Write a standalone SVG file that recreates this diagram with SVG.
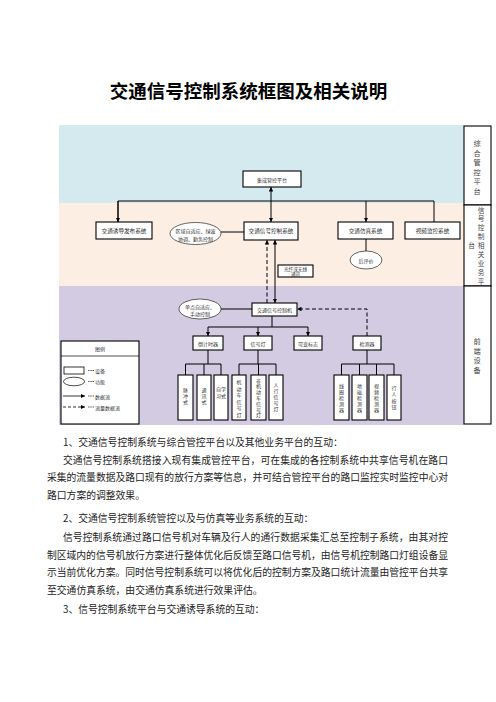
<svg xmlns="http://www.w3.org/2000/svg" width="496" height="702" viewBox="0 0 496 702">
<style>
.t{font-family:"Noto Sans CJK SC","Noto Sans",sans-serif;fill:#333;dominant-baseline:central;text-anchor:middle}
.s5{font-size:5px}
.s6{font-size:5.6px}
.box{fill:#fff;stroke:#000;stroke-width:1.1}
.ell{fill:#fff;stroke:#222;stroke-width:0.7}
.ln{fill:none;stroke:#000;stroke-width:1}
.dl{fill:none;stroke:#000;stroke-width:1;stroke-dasharray:4 2.5}
.col{font-family:"Noto Sans CJK SC","Noto Sans",sans-serif;font-size:7.2px;fill:#444;dominant-baseline:central;text-anchor:middle}
.colm{font-family:"Noto Sans CJK SC","Noto Sans",sans-serif;font-size:6.7px;fill:#444;dominant-baseline:central;text-anchor:middle}
.body{font-family:"Noto Sans CJK SC","Noto Sans",sans-serif;font-size:9.8px;fill:#222}
</style>
<defs>
<marker id="ah" viewBox="0 0 6 6" refX="6" refY="3" markerUnits="userSpaceOnUse" markerWidth="4.5" markerHeight="4.5" orient="auto-start-reverse"><path d="M0,0 L6,3 L0,6 z" fill="#000"/></marker>
</defs>
<rect width="496" height="702" fill="#fff"/>
<text x="248.5" y="98" font-family="'Noto Sans CJK SC',sans-serif" font-size="18.5" font-weight="bold" text-anchor="middle" fill="#000">交通信号控制系统框图及相关说明</text>

<g id="bands">
<rect x="59" y="125" width="405" height="78" fill="#d4eaef"/>
<rect x="59" y="203" width="405" height="83" fill="#fdeee3"/>
<rect x="59" y="286" width="405" height="139" fill="#d2cbe1"/>
</g>

<g id="col-top"><rect x="464" y="126" width="27" height="79" class="box"/>
<text class="col"><tspan x="477" y="143">综</tspan><tspan x="477" y="152.5">合</tspan><tspan x="477" y="162">管</tspan><tspan x="477" y="171.5">控</tspan><tspan x="477" y="181">平</tspan><tspan x="477" y="190.5">台</tspan></text></g>
<g id="col-mid"><rect x="464" y="205" width="27" height="81" class="box"/>
<text class="colm"><tspan x="481" y="209.5">信</tspan><tspan x="481" y="218.4">号</tspan><tspan x="481" y="227.3">控</tspan><tspan x="481" y="236.2">制</tspan><tspan x="481" y="245.1">相</tspan><tspan x="481" y="254">关</tspan><tspan x="481" y="262.9">业</tspan><tspan x="481" y="271.8">务</tspan><tspan x="481" y="280.7">平</tspan><tspan x="471.5" y="245">台</tspan></text></g>
<g id="col-bot"><rect x="464" y="286" width="27" height="138" class="box"/>
<text class="col"><tspan x="477" y="341">前</tspan><tspan x="477" y="350.5">端</tspan><tspan x="477" y="360">设</tspan><tspan x="477" y="369.5">备</tspan></text></g>

<g id="connectors">
<line x1="271" y1="187" x2="271" y2="222" class="ln" marker-start="url(#ah)" marker-end="url(#ah)"/>
<polyline points="118,222 118,201 434,201 434,222" class="ln"/>
<line x1="118" y1="201" x2="118" y2="222" class="ln" marker-end="url(#ah)"/>
<line x1="366" y1="201" x2="366" y2="222" class="ln" marker-end="url(#ah)"/>
<line x1="221" y1="232" x2="244" y2="232" class="ln"/>
<line x1="366" y1="239" x2="366" y2="251" class="ln"/>
<line x1="275" y1="240" x2="275" y2="303" class="ln" marker-start="url(#ah)" marker-end="url(#ah)"/>
<line x1="267" y1="303" x2="267" y2="240" class="dl" marker-end="url(#ah)"/>
<line x1="221" y1="309" x2="252" y2="309" class="ln"/>
<polyline points="367,336 367,309 297,309" class="dl" marker-end="url(#ah)"/>
<line x1="272" y1="316" x2="272" y2="327" class="ln"/>
<line x1="208" y1="327" x2="308" y2="327" class="ln"/>
<line x1="208" y1="327" x2="208" y2="336" class="ln" marker-end="url(#ah)"/>
<line x1="258" y1="327" x2="258" y2="336" class="ln" marker-end="url(#ah)"/>
<line x1="308" y1="327" x2="308" y2="336" class="ln" marker-end="url(#ah)"/>
<path d="M208,350 V364 M185.5,375 V364 H221 V375 M204,364 V375" class="ln"/>
<path d="M258,350 V364 M239,375 V364 H276 V375 M258.5,364 V375" class="ln"/>
<path d="M367,350 V364 M341.5,375 V364 H394 V375 M359.5,364 V375 M376.5,364 V375" class="ln"/>
</g>

<g id="n-jicheng"><rect x="243" y="171" width="58" height="16" class="box"/><text x="272" y="179" class="t s5">集成管控平台</text></g>
<g id="n-youdao"><rect x="96" y="222" width="56" height="17" class="box"/><text x="124" y="230.5" class="t s6">交通诱导发布系统</text></g>
<g id="n-quyu"><ellipse cx="195.5" cy="233.5" rx="25.5" ry="11" class="ell"/><text class="t s5"><tspan x="195.5" y="230">区域自适应、绿波</tspan><tspan x="195.5" y="237.5">协调、勤务控制</tspan></text></g>
<g id="n-xhkzxt"><rect x="244" y="222" width="54" height="18" class="box"/><text x="271" y="231" class="t s6">交通信号控制系统</text></g>
<g id="n-fangzhen"><rect x="338" y="222" width="55" height="17" class="box"/><text x="365.5" y="230.5" class="t s6">交通仿真系统</text></g>
<g id="n-shipin"><rect x="405" y="222" width="55" height="17" class="box"/><text x="432.5" y="230.5" class="t s6">视频监控系统</text></g>
<g id="n-houpingjia"><ellipse cx="366" cy="260" rx="16" ry="9" class="ell"/><text x="366" y="260" class="t s5">后评价</text></g>
<g id="n-guangxian"><rect x="278" y="265" width="35" height="12" class="box" stroke-width="0.9"/><text class="t" font-size="4.6"><tspan x="295.5" y="268.8">光纤或无线</tspan><tspan x="295.5" y="273.6">通讯</tspan></text></g>
<g id="n-danding"><ellipse cx="200" cy="309" rx="21" ry="10" class="ell"/><text class="t s5"><tspan x="200" y="305.5">单点自适应、</tspan><tspan x="200" y="312.5">手动控制</tspan></text></g>
<g id="n-xhkzj"><rect x="252" y="303" width="45" height="13" class="box"/><text x="274.5" y="309.5" class="t s5">交通信号控制机</text></g>
<g id="n-daojishi"><rect x="193" y="336" width="30" height="14" class="box"/><text x="208" y="343" class="t s5">倒计时器</text></g>
<g id="n-xinhaodeng"><rect x="244" y="336" width="28" height="14" class="box"/><text x="258" y="343" class="t s5">信号灯</text></g>
<g id="n-kebian"><rect x="294" y="336" width="28" height="14" class="box"/><text x="308" y="343" class="t s5">可变标志</text></g>
<g id="n-jianceqi"><rect x="353" y="336" width="28" height="14" class="box"/><text x="367" y="343" class="t s5">检测器</text></g>

<g id="n-maichong"><rect x="178" y="375" width="15" height="45" class="box"/><text class="t s5"><tspan x="185.5" y="389">脉</tspan><tspan x="185.5" y="395">冲</tspan><tspan x="185.5" y="401">式</tspan></text></g>
<g id="n-tongxun"><rect x="197" y="375" width="14" height="45" class="box"/><text class="t s5"><tspan x="204" y="389">通</tspan><tspan x="204" y="395">讯</tspan><tspan x="204" y="401">式</tspan></text></g>
<g id="n-zixuexi"><rect x="214" y="375" width="14" height="45" class="box"/><text class="t s5"><tspan x="221" y="388">自学</tspan><tspan x="221" y="395">习式</tspan></text></g>
<g id="n-jidongche"><rect x="232" y="375" width="14" height="45" class="box"/><text class="t s5"><tspan x="239" y="381">机</tspan><tspan x="239" y="387.5">动</tspan><tspan x="239" y="394">车</tspan><tspan x="239" y="400.5">信</tspan><tspan x="239" y="407">号</tspan><tspan x="239" y="413.5">灯</tspan></text></g>
<g id="n-feijidong"><rect x="251" y="375" width="15" height="45" class="box"/><text class="t s5"><tspan x="258.5" y="379.5">非</tspan><tspan x="258.5" y="385.3">机</tspan><tspan x="258.5" y="391.1">动</tspan><tspan x="258.5" y="396.9">车</tspan><tspan x="258.5" y="402.7">信</tspan><tspan x="258.5" y="408.5">号</tspan><tspan x="258.5" y="414.3">灯</tspan></text></g>
<g id="n-renxing"><rect x="269" y="375" width="14" height="45" class="box"/><text class="t s5"><tspan x="276" y="384">人</tspan><tspan x="276" y="390">行</tspan><tspan x="276" y="396">信</tspan><tspan x="276" y="402">号</tspan><tspan x="276" y="408">灯</tspan></text></g>
<g id="n-xianquan"><rect x="334" y="375" width="15" height="45" class="box"/><text class="t s5"><tspan x="341.5" y="385">线</tspan><tspan x="341.5" y="391">圈</tspan><tspan x="341.5" y="397">检</tspan><tspan x="341.5" y="403">测</tspan><tspan x="341.5" y="409">器</tspan></text></g>
<g id="n-dici"><rect x="352" y="375" width="15" height="45" class="box"/><text class="t s5"><tspan x="359.5" y="385">地</tspan><tspan x="359.5" y="391">磁</tspan><tspan x="359.5" y="397">检</tspan><tspan x="359.5" y="403">测</tspan><tspan x="359.5" y="409">器</tspan></text></g>
<g id="n-shipinjc"><rect x="369" y="375" width="15" height="45" class="box"/><text class="t s5"><tspan x="376.5" y="385">视</tspan><tspan x="376.5" y="391">频</tspan><tspan x="376.5" y="397">检</tspan><tspan x="376.5" y="403">测</tspan><tspan x="376.5" y="409">器</tspan></text></g>
<g id="n-anniu"><rect x="387" y="375" width="14" height="45" class="box"/><text class="t s5"><tspan x="394" y="387">行</tspan><tspan x="394" y="393">人</tspan><tspan x="394" y="400">按</tspan><tspan x="394" y="406">钮</tspan></text></g>

<g id="legend">
<rect x="61" y="341" width="78" height="83" class="box" stroke-width="0.9"/>
<line x1="61" y1="356" x2="139" y2="356" stroke="#000" stroke-width="0.7"/>
<text x="100" y="348.5" class="t s5">图例</text>
<rect x="64" y="367" width="20" height="7" fill="#fff" stroke="#000" stroke-width="0.8"/>
<ellipse cx="74" cy="381.5" rx="10.5" ry="4.3" fill="#fff" stroke="#000" stroke-width="0.7"/>
<line x1="63" y1="396" x2="85" y2="396" stroke="#000" stroke-width="0.8" marker-end="url(#ah)"/>
<line x1="63" y1="407" x2="85" y2="407" stroke="#000" stroke-width="0.8" stroke-dasharray="3 2" marker-end="url(#ah)"/>
<g stroke="#333" stroke-width="0.8" stroke-dasharray="1.5 0.8"><line x1="88" y1="370.5" x2="94" y2="370.5"/><line x1="88" y1="381.5" x2="94" y2="381.5"/><line x1="88" y1="396" x2="94" y2="396"/><line x1="88" y1="407" x2="94" y2="407"/></g>
<text x="95" y="370.5" class="t s5" style="text-anchor:start">设备</text>
<text x="95" y="381.5" class="t s5" style="text-anchor:start">功能</text>
<text x="95" y="396" class="t s5" style="text-anchor:start">数据流</text>
<text x="95" y="407" class="t s5" style="text-anchor:start">流量数据流</text>
</g>

<g id="body">
<text x="63" y="445.5" class="body">1、交通信号控制系统与综合管控平台以及其他业务平台的互动：</text>
<text x="63" y="463.5" class="body" textLength="385" lengthAdjust="spacing">交通信号控制系统搭接入现有集成管控平台，可在集成的各控制系统中共享信号机在路口</text>
<text x="47" y="481" class="body" textLength="401" lengthAdjust="spacing">采集的流量数据及路口现有的放行方案等信息，并可结合管控平台的路口监控实时监控中心对</text>
<text x="47" y="498.5" class="body">路口方案的调整效果。</text>
<text x="63" y="522" class="body">2、交通信号控制系统管控以及与仿真等业务系统的互动：</text>
<text x="63" y="541" class="body" textLength="385" lengthAdjust="spacing">信号控制系统通过路口信号机对车辆及行人的通行数据采集汇总至控制子系统，由其对控</text>
<text x="47" y="558.5" class="body" textLength="401" lengthAdjust="spacing">制区域内的信号机放行方案进行整体优化后反馈至路口信号机，由信号机控制路口灯组设备显</text>
<text x="47" y="576" class="body" textLength="401" lengthAdjust="spacing">示当前优化方案。同时信号控制系统可以将优化后的控制方案及路口统计流量由管控平台共享</text>
<text x="47" y="593.5" class="body">至交通仿真系统，由交通仿真系统进行效果评估。</text>
<text x="63" y="613" class="body">3、信号控制系统平台与交通诱导系统的互动：</text>
</g>
</svg>
